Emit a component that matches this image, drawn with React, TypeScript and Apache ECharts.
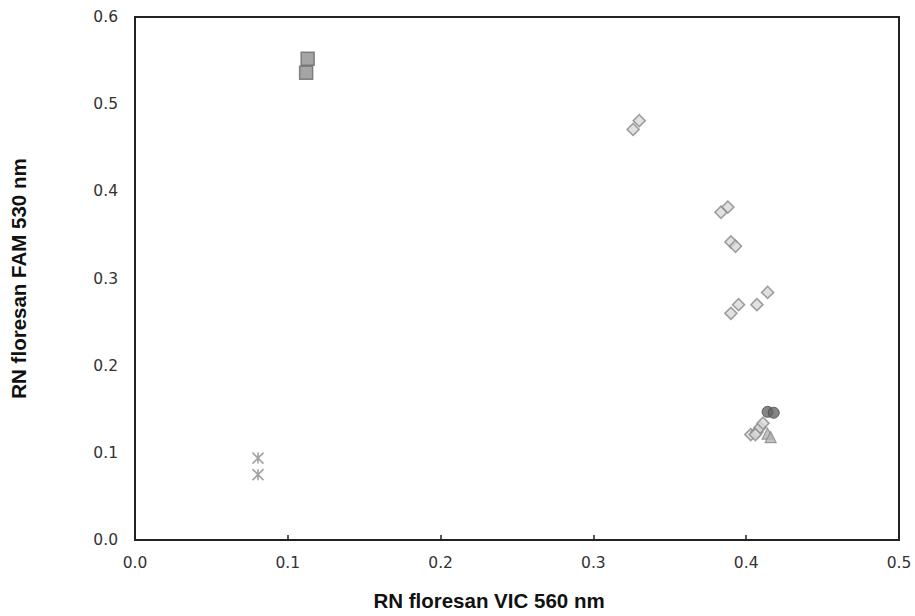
import React, { useEffect, useRef } from "react";
import * as echarts from "echarts";

const squares: number[][] = [
  [0.113, 0.552],
  [0.112, 0.536],
];
const asterisks: number[][] = [
  [0.0805, 0.094],
  [0.0805, 0.075],
];
const diamonds: number[][] = [
  [0.326, 0.471],
  [0.33, 0.481],
  [0.3835, 0.376],
  [0.388, 0.382],
  [0.39, 0.342],
  [0.393, 0.337],
  [0.414, 0.284],
  [0.407, 0.27],
  [0.395, 0.27],
  [0.39, 0.26],
  [0.403, 0.121],
  [0.407, 0.124],
  [0.409, 0.129],
  [0.411, 0.134],
  [0.406, 0.121],
];
const circles: number[][] = [
  [0.414, 0.147],
  [0.418, 0.146],
];
const triangles: number[][] = [
  [0.414, 0.122],
  [0.416, 0.118],
];

export default function App() {
  const ref = useRef<HTMLDivElement>(null);
  useEffect(() => {
    if (!ref.current) return;
    const chart = echarts.init(ref.current, undefined, { renderer: "svg" });
    const tickFont = { fontFamily: "'DejaVu Sans', sans-serif", fontSize: 15.5, color: "#333" };
    const titleFont = { fontFamily: "'Liberation Sans', Arial, sans-serif", fontWeight: "bold", fontSize: 20.5, color: "#111" };
    chart.setOption({
      animation: false,
      backgroundColor: "#fff",
      grid: { left: 135, right: 16, top: 17, bottom: 76, containLabel: false },
      xAxis: {
        type: "value",
        min: 0,
        max: 0.5,
        interval: 0.1,
        name: "RN floresan VIC 560 nm",
        nameLocation: "middle",
        nameGap: 50,
        nameTextStyle: { ...titleFont, padding: [0, 56, 0, 0] },
        axisLine: { show: true, lineStyle: { color: "#222", width: 2 } },
        axisTick: { show: true, inside: true, length: 5, lineStyle: { color: "#222", width: 1.5 } },
        axisLabel: { ...tickFont, margin: 15, formatter: (v: number) => v.toFixed(1) },
        splitLine: { show: false },
      },
      yAxis: {
        type: "value",
        min: 0,
        max: 0.6,
        interval: 0.1,
        name: "RN floresan FAM 530 nm",
        nameLocation: "middle",
        nameGap: 106,
        nameRotate: 90,
        nameTextStyle: titleFont,
        axisLine: { show: true, lineStyle: { color: "#222", width: 2 } },
        axisTick: { show: false },
        axisLabel: { ...tickFont, margin: 17, formatter: (v: number) => v.toFixed(1) },
        splitLine: { show: false },
      },
      graphic: [
        {
          type: "rect",
          shape: { x: 135, y: 17, width: 764, height: 523 },
          style: { fill: "none", stroke: "#222", lineWidth: 2 },
          silent: true,
          z: 10,
        },
      ],
      series: [
        {
          type: "scatter",
          data: squares,
          symbol: "rect",
          symbolSize: 13,
          itemStyle: { color: "#8e8e8e", borderColor: "#6a6a6a", borderWidth: 1.5 },
        },
        {
          type: "scatter",
          data: asterisks,
          symbol: "path://M0 0 L10 10 M10 0 L0 10 M5 0 L5 10",
          symbolSize: 11,
          itemStyle: { color: "transparent", borderColor: "#8a8a8a", borderWidth: 1.6 },
        },
        {
          type: "scatter",
          data: diamonds,
          symbol: "rect",
          symbolRotate: 45,
          symbolSize: 8.5,
          itemStyle: { color: "#dadada", borderColor: "#8a8a8a", borderWidth: 1.6 },
        },
        {
          type: "scatter",
          data: circles,
          symbol: "circle",
          symbolSize: 11,
          itemStyle: { color: "#656565", borderColor: "#4a4a4a", borderWidth: 1 },
        },
        {
          type: "scatter",
          data: triangles,
          symbol: "triangle",
          symbolSize: 11,
          itemStyle: { color: "#b4b4b4", borderColor: "#8a8a8a", borderWidth: 1.2 },
        },
      ],
    });
    return () => chart.dispose();
  }, []);
  return <div ref={ref} style={{ width: 915, height: 616, position: "absolute", left: 0, top: 0 }} />;
}
